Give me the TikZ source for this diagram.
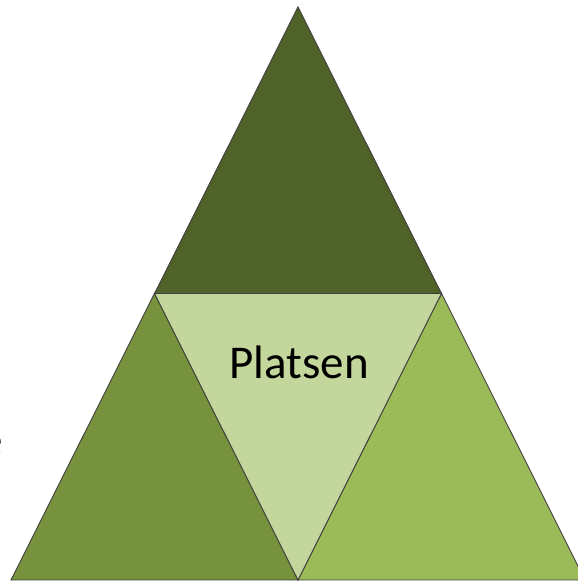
\documentclass[tikz,border=0pt]{standalone}
\usepackage{fontspec}
\setmainfont{Carlito}
\definecolor{gtop}{HTML}{4F6228}
\definecolor{gleft}{HTML}{76923C}
\definecolor{gright}{HTML}{9BBB59}
\definecolor{gmid}{HTML}{C3D69B}
\definecolor{edge}{HTML}{404040}
\begin{document}
\begin{tikzpicture}[x=1pt,y=1pt,
  piece/.style={draw=edge,line width=0.9pt,line join=miter},
  lbl/.style={font=\fontsize{47}{56}\selectfont,inner sep=0pt,text=black}]
\useasboundingbox (0,0) rectangle (578,582);
\fill[white] (0,0) rectangle (578,582);
\coordinate (A) at (298,575);
\coordinate (L) at (11,2);
\coordinate (R) at (585,2);
\coordinate (ML) at (154.5,288.5);
\coordinate (MR) at (441.5,288.5);
\coordinate (B) at (298,2);
\filldraw[piece,fill=gtop] (A) -- (ML) -- (MR) -- cycle;
\filldraw[piece,fill=gleft] (ML) -- (L) -- (B) -- cycle;
\filldraw[piece,fill=gright] (MR) -- (B) -- (R) -- cycle;
\filldraw[piece,fill=gmid] (ML) -- (MR) -- (B) -- cycle;
\node[lbl,anchor=base] (plats) at (299,203) {Platsen};
\node[lbl,anchor=base east] (e) at (3.5,126) {e};
\end{tikzpicture}
\end{document}
